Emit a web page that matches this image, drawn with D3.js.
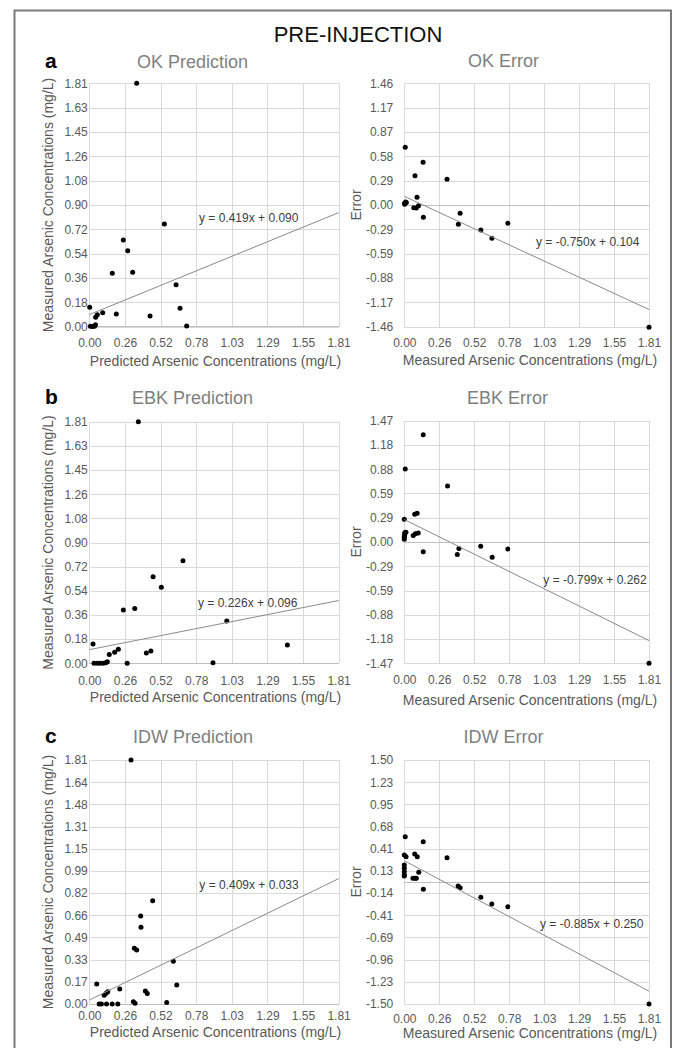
<!DOCTYPE html>
<html lang="en">
<head>
<meta charset="utf-8">
<title>Pre-injection prediction and error</title>
<script src="https://cdn.jsdelivr.net/npm/d3@7"></script>
<style>
  body { margin: 0; background: #fff; }
  svg text { font-family: "Liberation Sans", Arial, sans-serif; }
</style>
</head>
<body>
<script>
// ---- data ----
var xTickLabels = ["0.00", "0.26", "0.52", "0.78", "1.03", "1.29", "1.55", "1.81"];

var okYTicks  = ["0.00", "0.18", "0.36", "0.54", "0.72", "0.90", "1.08", "1.26", "1.45", "1.63", "1.81"];
var ebkYTicks = ["0.00", "0.18", "0.36", "0.54", "0.72", "0.90", "1.08", "1.26", "1.45", "1.63", "1.81"];
var idwYTicks = ["0.00", "0.17", "0.33", "0.49", "0.66", "0.82", "0.99", "1.15", "1.31", "1.48", "1.64", "1.81"];
var okErrTicks  = ["-1.46", "-1.17", "-0.88", "-0.59", "-0.29", "0.00", "0.29", "0.58", "0.87", "1.17", "1.46"];
var ebkErrTicks = ["-1.47", "-1.18", "-0.88", "-0.59", "-0.29", "0.00", "0.29", "0.59", "0.88", "1.18", "1.47"];
var idwErrTicks = ["-1.50", "-1.23", "-0.96", "-0.69", "-0.41", "-0.14", "0.13", "0.41", "0.68", "0.95", "1.23", "1.50"];

// OK: predicted (x) vs measured (y)
var okPred = [0.344, 0.545, 0.247, 0.279, 0.167, 0.315, 0.630, 0.659, 0.003, 0.196, 0.441, 0.097, 0.058, 0.046, 0.707, 0.008, 0.022, 0.038, 0.045];
var okMeas = [1.81, 0.764, 0.645, 0.565, 0.397, 0.404, 0.312, 0.137, 0.144, 0.094, 0.080, 0.104, 0.089, 0.070, 0.005, 0.003, 0.002, 0.004, 0.015];
// OK error: measured (x) vs error (y)
var okErrX = [1.81, 0.766, 0.648, 0.566, 0.400, 0.413, 0.316, 0.139, 0.141, 0.094, 0.079, 0.105, 0.089, 0.070, 0.007, 0.003, 0.002, 0.010, 0.015];
var okErrY = [-1.466, -0.22, -0.40, -0.30, -0.232, -0.10, 0.308, 0.512, -0.148, 0.092, 0.352, -0.01, -0.035, -0.032, 0.692, 0.01, 0.02, 0.035, 0.03];

var ebkPred = [0.356, 0.680, 0.463, 0.523, 0.247, 0.330, 0.998, 1.438, 0.027, 0.145, 0.184, 0.211, 0.414, 0.447, 0.275, 0.898, 0.034, 0.058, 0.078, 0.102, 0.119, 0.131];
var ebkMeas = [1.81, 0.769, 0.649, 0.569, 0.400, 0.410, 0.317, 0.137, 0.145, 0.065, 0.083, 0.105, 0.078, 0.092, 0.0, 0.005, 0.0, 0.0, 0.0, 0.0, 0.005, 0.012];
var ebkErrX = [1.81, 0.766, 0.650, 0.565, 0.392, 0.404, 0.320, 0.140, 0.140, 0.066, 0.082, 0.103, 0.077, 0.095, 0.0, 0.007, 0.0, 0.0, 0.002, 0.003, 0.005, 0.012];
var ebkErrY = [-1.47, -0.085, -0.186, -0.05, -0.15, -0.08, 0.68, 1.30, -0.117, 0.08, 0.10, 0.11, 0.336, 0.348, 0.275, 0.885, 0.034, 0.058, 0.078, 0.102, 0.114, 0.119];

var idwPred = [0.303, 0.460, 0.373, 0.375, 0.327, 0.344, 0.610, 0.635, 0.054, 0.221, 0.407, 0.421, 0.108, 0.122, 0.134, 0.562, 0.320, 0.332, 0.072, 0.088, 0.125, 0.166, 0.207];
var idwMeas = [1.81, 0.766, 0.653, 0.569, 0.413, 0.401, 0.317, 0.141, 0.148, 0.111, 0.096, 0.077, 0.064, 0.080, 0.090, 0.012, 0.016, 0.005, 0.0, 0.0, 0.0, 0.0, 0.0];
var idwErrX = [1.81, 0.766, 0.647, 0.566, 0.413, 0.398, 0.316, 0.140, 0.141, 0.107, 0.096, 0.077, 0.064, 0.080, 0.089, 0.007, 0.013, 0.0, 0.0, 0.0, 0.0, 0.0, 0.0];
var idwErrY = [-1.50, -0.303, -0.27, -0.188, -0.07, -0.049, 0.299, 0.496, -0.09, 0.119, 0.311, 0.344, 0.045, 0.045, 0.045, 0.557, 0.311, 0.332, 0.074, 0.086, 0.127, 0.168, 0.209];

// trendlines as drawn: value at x = 0 and at x = 1.81, plus the printed equations
var trendStart = [0.090, 0.104, 0.102, 0.272, 0.030, 0.262];
var trendEnd   = [0.848, -1.254, 0.470, -1.195, 0.930, -1.342];
var trendLabels = ["y = 0.419x + 0.090", "y = -0.750x + 0.104", "y = 0.226x + 0.096",
                   "y = -0.799x + 0.262", "y = 0.409x + 0.033", "y = -0.885x + 0.250"];

var panelTitles = ["OK Prediction", "OK Error", "EBK Prediction", "EBK Error", "IDW Prediction", "IDW Error"];
var rowLetters = ["a", "b", "c"];

// ---- layout ----
var W = 676, H = 1048;
var gray = "#595959", gridColor = "#d9d9d9", titleGray = "#7f7f7f";

var svg = d3.select("body").append("svg").attr("width", W).attr("height", H);

svg.append("rect").attr("x", 14.5).attr("y", 10.5).attr("width", 656.5).attr("height", 1045)
   .attr("fill", "none").attr("stroke", "#7a7a7a").attr("stroke-width", 2);

svg.append("text").attr("x", 358).attr("y", 41.5).attr("text-anchor", "middle")
   .attr("font-size", "22px").attr("fill", "#111").text("PRE-INJECTION");

// per panel boxes and label positions
var panels = [
  { x0: 89.3, x1: 338.6, y0: 83.3, y1: 326.7, xs: okPred, ys: okMeas, yd: [0, 1.81], yt: okYTicks,
    titleX: 192.5, titleY: 67.7, tickPad: 1.5, xLabBase: 347, xTitle: "Predicted Arsenic Concentrations (mg/L)", xTitleX: 215.5, xTitleY: 366,
    yTitle: "Measured Arsenic Concentrations (mg/L)", yTitleX: 52.5, eqX: 199, eqY: 221.7 },
  { x0: 404.3, x1: 649, y0: 83.3, y1: 326.7, xs: okErrX, ys: okErrY, yd: [-1.46, 1.46], yt: okErrTicks,
    titleX: 503.5, titleY: 66.7, tickPad: 11, xLabBase: 347, xTitle: "Measured Arsenic Concentrations (mg/L)", xTitleX: 530, xTitleY: 365,
    yTitle: "Error", yTitleX: 361, eqX: 536, eqY: 246 },
  { x0: 89.3, x1: 338.6, y0: 421.7, y1: 663.3, xs: ebkPred, ys: ebkMeas, yd: [0, 1.81], yt: ebkYTicks,
    titleX: 192.5, titleY: 404, tickPad: 1.5, xLabBase: 685, xTitle: "Predicted Arsenic Concentrations (mg/L)", xTitleX: 215.5, xTitleY: 702.3,
    yTitle: "Measured Arsenic Concentrations (mg/L)", yTitleX: 52.5, eqX: 198, eqY: 606.7 },
  { x0: 404.3, x1: 649, y0: 420.7, y1: 663.3, xs: ebkErrX, ys: ebkErrY, yd: [-1.47, 1.47], yt: ebkErrTicks,
    titleX: 507.6, titleY: 404, tickPad: 11, xLabBase: 684.3, xTitle: "Measured Arsenic Concentrations (mg/L)", xTitleX: 530, xTitleY: 705,
    yTitle: "Error", yTitleX: 361, eqX: 543.3, eqY: 584.3 },
  { x0: 89.3, x1: 338.6, y0: 760, y1: 1004, xs: idwPred, ys: idwMeas, yd: [0, 1.81], yt: idwYTicks,
    titleX: 193, titleY: 743, tickPad: 1.5, xLabBase: 1019.5, xTitle: "Predicted Arsenic Concentrations (mg/L)", xTitleX: 215.5, xTitleY: 1037,
    yTitle: "Measured Arsenic Concentrations (mg/L)", yTitleX: 52.5, eqX: 199.3, eqY: 889 },
  { x0: 404.3, x1: 649, y0: 760, y1: 1004, xs: idwErrX, ys: idwErrY, yd: [-1.50, 1.50], yt: idwErrTicks,
    titleX: 503.5, titleY: 743, tickPad: 11, xLabBase: 1022.5, xTitle: "Measured Arsenic Concentrations (mg/L)", xTitleX: 530, xTitleY: 1038,
    yTitle: "Error", yTitleX: 361, eqX: 540, eqY: 928.3 }
];

// row letters
[67.7, 403.5, 742.5].forEach(function(y, i) {
  svg.append("text").attr("x", 45).attr("y", y).attr("font-size", "21px").attr("font-weight", "bold")
     .attr("fill", "#000").text(rowLetters[i]);
});

function evenTicks(domain, n) {
  return d3.range(n).map(function(i) { return domain[0] + i * (domain[1] - domain[0]) / (n - 1); });
}

panels.forEach(function(p, k) {
  var x = d3.scaleLinear().domain([0, 1.81]).range([p.x0, p.x1]);
  var y = d3.scaleLinear().domain(p.yd).range([p.y1, p.y0]);
  var pw = p.x1 - p.x0, ph = p.y1 - p.y0;

  var xTickVals = evenTicks([0, 1.81], xTickLabels.length);
  var yTickVals = evenTicks(p.yd, p.yt.length);

  // x gridlines + tick labels
  var gx = svg.append("g").attr("transform", "translate(0," + p.y1 + ")")
    .call(d3.axisBottom(x).tickValues(xTickVals).tickSize(-ph)
      .tickFormat(function(d, i) { return xTickLabels[i]; }));
  gx.select(".domain").remove();
  gx.selectAll(".tick line").attr("stroke", gridColor).attr("shape-rendering", "crispEdges");
  gx.selectAll(".tick text").attr("y", p.xLabBase - p.y1).attr("dy", null)
    .attr("fill", gray).attr("font-size", "12px").attr("font-family", null);

  // y gridlines + tick labels
  var gy = svg.append("g").attr("transform", "translate(" + p.x0 + ",0)")
    .call(d3.axisLeft(y).tickValues(yTickVals).tickSize(-pw).tickPadding(p.tickPad)
      .tickFormat(function(d, i) { return p.yt[i]; }));
  gy.select(".domain").remove();
  gy.selectAll(".tick line").attr("stroke", gridColor).attr("shape-rendering", "crispEdges");
  gy.selectAll(".tick text").attr("fill", gray).attr("font-size", "12px").attr("font-family", null);

  // horizontal axis line at zero
  svg.append("line").attr("x1", p.x0).attr("x2", p.x1).attr("y1", y(0)).attr("y2", y(0))
     .attr("stroke", "#bfbfbf").attr("shape-rendering", "crispEdges");

  // points
  svg.append("g").selectAll("circle")
    .data(d3.range(p.xs.length))
    .enter().append("circle")
    .attr("cx", function(i) { return x(p.xs[i]); })
    .attr("cy", function(i) { return y(p.ys[i]); })
    .attr("r", 2.5)
    .attr("fill", "#000");

  // trendline
  svg.append("line")
    .attr("x1", x(0)).attr("y1", y(trendStart[k]))
    .attr("x2", x(1.81)).attr("y2", y(trendEnd[k]))
    .attr("stroke", "#8a8a8a").attr("stroke-width", 1);

  svg.append("text").attr("x", p.eqX).attr("y", p.eqY).attr("font-size", "12px").attr("fill", "#404040")
     .text(trendLabels[k]);

  // titles
  svg.append("text").attr("x", p.titleX).attr("y", p.titleY).attr("text-anchor", "middle")
     .attr("font-size", "18px").attr("fill", titleGray).text(panelTitles[k]);

  svg.append("text").attr("x", p.xTitleX).attr("y", p.xTitleY).attr("text-anchor", "middle")
     .attr("font-size", "14px").attr("fill", gray).text(p.xTitle);

  svg.append("text")
     .attr("transform", "translate(" + p.yTitleX + "," + ((p.y0 + p.y1) / 2) + ") rotate(-90)")
     .attr("text-anchor", "middle").attr("font-size", "14px").attr("fill", gray).text(p.yTitle);
});
</script>
</body>
</html>
